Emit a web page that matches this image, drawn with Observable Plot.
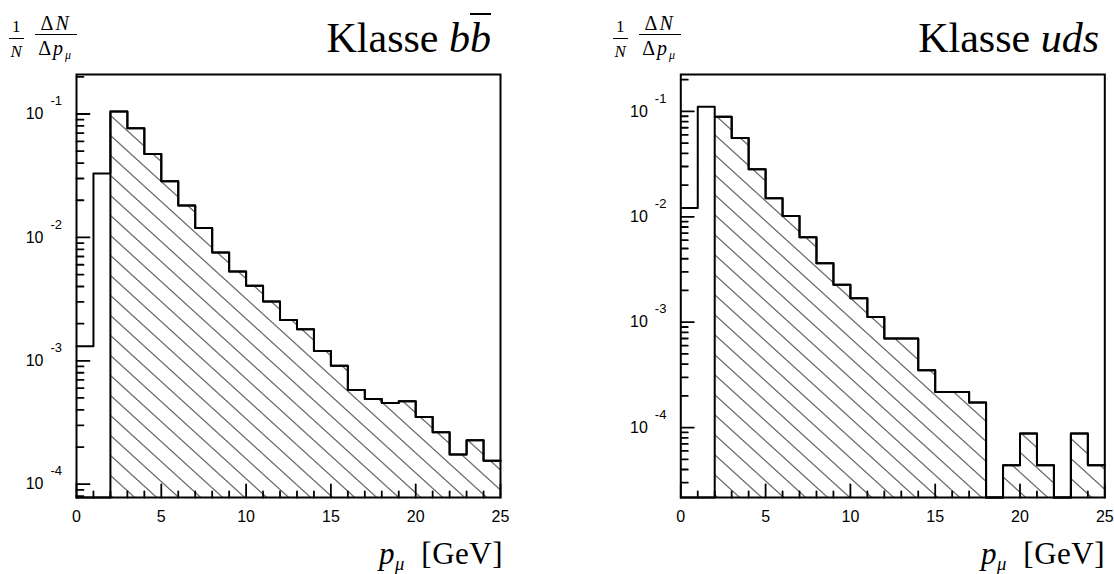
<!DOCTYPE html>
<html><head><meta charset="utf-8">
<script src="https://cdn.jsdelivr.net/npm/d3@7"></script>
<script src="https://cdn.jsdelivr.net/npm/@observablehq/plot@0.6"></script>
<style>
body{margin:0;background:#fff;}
#wrap{position:relative;width:1114px;height:574px;overflow:hidden;font-family:"Liberation Serif","Times New Roman",serif;color:#000;background:#fff}
.panel{position:absolute;top:0;width:557px;height:574px}
.title{position:absolute;top:16.5px;font-size:42px;line-height:42px;white-space:nowrap}
.ov{text-decoration:overline;text-decoration-thickness:1.6px}
.ylab{position:absolute;top:13px;display:flex;align-items:flex-start;font-size:20px;line-height:20px;letter-spacing:2px}
.frac{display:inline-flex;flex-direction:column;align-items:center;margin-right:11px}
.frac .n{border-bottom:1.3px solid #000;padding:0 6px 1px}
.frac .d{padding-top:3px}
.small{font-size:17px;letter-spacing:0}
.xlab{position:absolute;top:538px;font-size:31px;line-height:31px;white-space:nowrap;letter-spacing:0.5px}
.sub{font-size:0.6em;position:relative;top:0.3em}
</style></head>
<body>
<div id="wrap">
  <div id="pL" class="panel" style="left:0"></div>
  <div id="pR" class="panel" style="left:557px"></div>
  <div class="title" style="right:623px">Klasse <i>b</i><i class="ov">b</i></div>
  <div class="title" style="right:15px">Klasse <i>uds</i></div>
  <div class="ylab" style="left:9px"><span class="frac small"><span class="n" style="padding:4px 3px 1px">1</span><span class="d"><i>N</i></span></span><span class="frac"><span class="n">Δ<i>N</i></span><span class="d">Δ<i>p</i><i class="sub">μ</i></span></span></div>
  <div class="ylab" style="left:613px"><span class="frac small"><span class="n" style="padding:4px 3px 1px">1</span><span class="d"><i>N</i></span></span><span class="frac"><span class="n">Δ<i>N</i></span><span class="d">Δ<i>p</i><i class="sub">μ</i></span></span></div>
  <div class="xlab" style="right:611px"><i>p</i><i class="sub">μ</i>&nbsp;&nbsp;[GeV]</div>
  <div class="xlab" style="right:9px"><i>p</i><i class="sub">μ</i>&nbsp;&nbsp;[GeV]</div>
</div>
<script>
// ---- data ----
const binLow = [0,1,2,3,4,5,6,7,8,9,10,11,12,13,14,15,16,17,18,19,20,21,22,23,24];
const binWidth = 1;
const hatchFrom = 2;            // bins from 2 GeV on are hatched
const xMajor = [0,5,10,15,20,25];
const xMinor = [1,2,3,4,6,7,8,9,11,12,13,14,16,17,18,19,21,22,23,24];
const xDomain = [0, 25];
// Klasse b bbar
const bbValues = [1.31e-3, 3.3e-2, 0.105, 0.0767, 0.0475, 0.0285, 0.0181, 0.0119, 0.00755, 0.0053,
  0.00406, 0.00303, 0.00214, 0.0018, 0.0012, 0.00091, 5.8e-4, 4.9e-4, 4.54e-4, 4.7e-4,
  3.5e-4, 2.63e-4, 1.74e-4, 2.27e-4, 1.55e-4];
const bbDomain = [7.8e-5, 0.209];
// Klasse uds
const udsValues = [0.0121, 0.111, 0.0891, 0.0558, 0.0283, 0.0150, 0.0102, 0.0064, 0.00363, 0.00226,
  0.00169, 0.00112, 7.0e-4, 7.0e-4, 3.5e-4, 2.18e-4, 2.18e-4, 1.73e-4, 0, 4.38e-5,
  8.77e-5, 4.38e-5, 0, 8.77e-5, 4.38e-5];
const udsDomain = [2.17e-5, 0.224];

function panel(el, {values, yDomain, marginLeft, marginRight, hatchId, hatchShift}) {
  const W = 557, H = 574, mt = 74, mb = 77;
  const fw = W - marginLeft - marginRight, fh = H - mt - mb;
  const [yMin, yMax] = yDomain;
  const bins = binLow.map((lo, i) => ({lo, hi: lo + binWidth, v: values[i]}));
  const last = bins[bins.length - 1];
  const stepPts = bins.map(b => ({x: b.lo, y: b.v > 0 ? b.v : yMin}));
  stepPts.push({x: last.hi, y: last.v > 0 ? last.v : yMin});
  const hatchBins = bins.filter(b => b.lo >= hatchFrom && b.v > 0);
  const hatchPts = bins.map(b => ({x: b.lo, y: (b.lo >= hatchFrom && b.v > 0) ? b.v : yMin}));
  hatchPts.push({x: last.hi, y: last.v > 0 ? last.v : yMin});
  const yt = d3.scaleLog().domain(yDomain).ticks();
  const isMajor = t => Math.abs(Math.log10(t) - Math.round(Math.log10(t))) < 1e-9;
  const major = yt.filter(isMajor);
  const minor = yt.filter(t => !isMajor(t));
  // tick segments pointing into the frame (pixel lengths converted through the scale extents)
  const dxPx = (xDomain[1] - xDomain[0]) / fw;
  const upPx = len => yMin * Math.pow(yMax / yMin, len / fh);
  const segs = [];
  major.forEach((t, i) => segs.push({id: "ym" + i, x: xDomain[0], y: t}, {id: "ym" + i, x: xDomain[0] + 13 * dxPx, y: t}));
  minor.forEach((t, i) => segs.push({id: "yn" + i, x: xDomain[0], y: t}, {id: "yn" + i, x: xDomain[0] + 7 * dxPx, y: t}));
  xMajor.forEach((t, i) => segs.push({id: "xm" + i, x: t, y: yMin}, {id: "xm" + i, x: t, y: upPx(13)}));
  xMinor.forEach((t, i) => segs.push({id: "xn" + i, x: t, y: yMin}, {id: "xn" + i, x: t, y: upPx(6)}));
  const svg = Plot.plot({
    width: W, height: H, marginLeft, marginRight, marginTop: mt, marginBottom: mb,
    x: {domain: xDomain, axis: null},
    y: {type: "log", domain: yDomain, axis: null},
    style: {fontFamily: "'Liberation Sans', Arial, sans-serif", fontSize: "16px", background: "white", color: "black", overflow: "visible"},
    marks: [
      Plot.rect(hatchBins, {x1: "lo", x2: "hi", y1: () => yMin, y2: "v", fill: `url(#${hatchId})`}),
      Plot.line(hatchPts, {x: "x", y: "y", curve: "step-after", stroke: "black", strokeWidth: 2}),
      Plot.line(stepPts, {x: "x", y: "y", curve: "step-after", stroke: "black", strokeWidth: 2}),
      Plot.line(segs, {x: "x", y: "y", z: "id", stroke: "black", strokeWidth: 1.8}),
      Plot.text(xMajor, {x: d => d, text: d => String(d), frameAnchor: "bottom", dy: 24, fontSize: 16, fill: "black"}),
      Plot.text(major, {y: d => d, text: () => "10", frameAnchor: "left", dx: -33, textAnchor: "end", fontSize: 16, fill: "black"}),
      Plot.text(major, {y: d => d, text: d => String(Math.round(Math.log10(d))), frameAnchor: "left", dx: -26, dy: -13, textAnchor: "start", fontSize: 13, fill: "black"}),
      Plot.frame({stroke: "black", strokeWidth: 2})
    ]
  });
  const ns = "http://www.w3.org/2000/svg";
  const defs = document.createElementNS(ns, "defs");
  defs.innerHTML = `<pattern id="${hatchId}" patternUnits="userSpaceOnUse" x="${hatchShift}" y="0" width="22" height="20">
    <path d="M-22,0L0,20M0,0L22,20M22,0L44,20" stroke="black" stroke-width="1" fill="none"/></pattern>`;
  svg.insertBefore(defs, svg.firstChild);
  el.appendChild(svg);
}

panel(document.getElementById("pL"), {values: bbValues, yDomain: bbDomain, marginLeft: 76, marginRight: 57, hatchId: "hatchL", hatchShift: 5.5});
panel(document.getElementById("pR"), {values: udsValues, yDomain: udsDomain, marginLeft: 123.3, marginRight: 9.7, hatchId: "hatchR", hatchShift: 16.5 - 557 % 22});
</script>
</body></html>
